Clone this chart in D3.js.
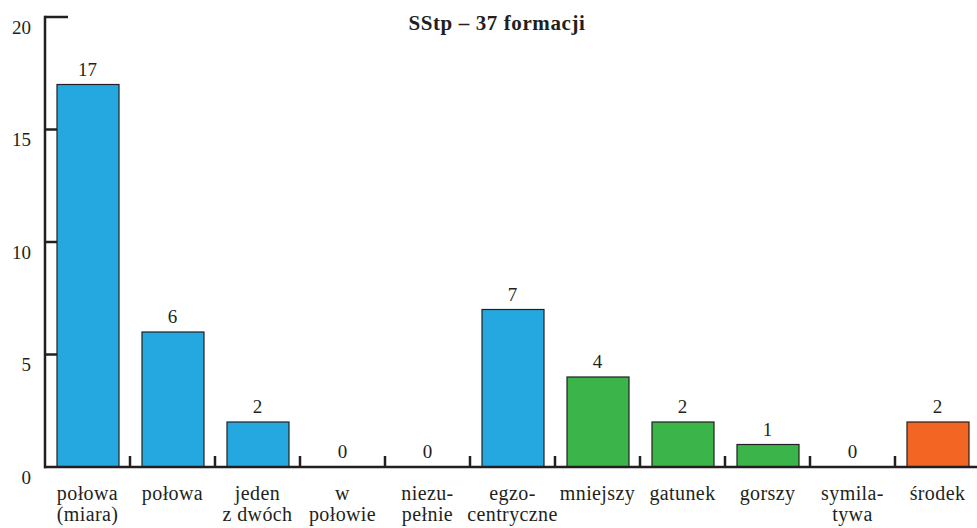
<!DOCTYPE html>
<html><head><meta charset="utf-8">
<script src="https://cdn.jsdelivr.net/npm/d3@7"></script>
<style>
body{margin:0;background:#fff;}
text{font-family:"Liberation Serif","Times New Roman",serif;fill:#231f20;}
</style></head>
<body><svg id="c" width="977" height="528"></svg>
<script>
const categories = [["połowa","(miara)"],["połowa"],["jeden","z dwóch"],["w","połowie"],["niezu-","pełnie"],["egzo-","centryczne"],["mniejszy"],["gatunek"],["gorszy"],["symila-","tywa"],["środek"]];
const values = [17,6,2,0,0,7,4,2,1,0,2];
const groups = ["a","a","a","a","a","a","b","b","b","b","c"];
const yTicks = [0,5,10,15,20];
const title = "SStp – 37 formacji";
const colors = {a:"#25a8e0", b:"#3bb54a", c:"#f26522"};

const svg = d3.select("#c");
const ink = "#231f20";
const n = categories.length;
const x = d3.scaleBand().domain(d3.range(n)).range([45, 45+85*n]);
const y = d3.scaleLinear().domain([0,20]).range([467,17]);
const step = x.step();

// y ticks (inward)
svg.selectAll(".yt").data(yTicks.filter(d=>d>0)).join("line")
  .attr("x1",45).attr("x2",68).attr("y1",d=>y(d)).attr("y2",d=>y(d))
  .attr("stroke",ink).attr("stroke-width",2.5);
svg.selectAll(".yl").data(yTicks).join("text")
  .attr("x",31).attr("y",d=>y(d)+16.5).attr("text-anchor","end")
  .attr("font-size",19).text(d=>d);

// bars
svg.selectAll(".bar").data(values).join("rect")
  .attr("x",(d,i)=>x(i)+12).attr("width",62)
  .attr("y",d=>y(d)).attr("height",d=>y(0)-y(d))
  .attr("fill",(d,i)=>colors[groups[i]]).attr("stroke",ink).attr("stroke-width",1.2)
  .attr("display",d=>d>0?null:"none");

// axes
svg.append("line").attr("x1",45).attr("x2",45).attr("y1",y(20)-1.2).attr("y2",y(0)+1.2).attr("stroke",ink).attr("stroke-width",2.5);
svg.append("line").attr("x1",44).attr("x2",977).attr("y1",y(0)).attr("y2",y(0)).attr("stroke",ink).attr("stroke-width",2.5);
svg.selectAll(".xt").data(d3.range(1,n+1)).join("line")
  .attr("x1",i=>45+i*step).attr("x2",i=>45+i*step).attr("y1",y(0)).attr("y2",y(0)-11)
  .attr("stroke",ink).attr("stroke-width",2.5);

// value labels
svg.selectAll(".vl").data(values).join("text")
  .attr("x",(d,i)=>x(i)+step/2).attr("y",d=>y(d)-9)
  .attr("text-anchor","middle").attr("font-size",19).text(d=>d);

// category labels
const cl = svg.selectAll(".cl").data(categories).join("text")
  .attr("text-anchor","middle").attr("font-size",20).attr("letter-spacing",0.4);
cl.each(function(lines,i){
  const t=d3.select(this);
  lines.forEach((s,k)=>t.append("tspan").attr("x",x(i)+step/2).attr("y",500+k*21).text(s));
});

svg.append("text").attr("x",497).attr("y",30).attr("text-anchor","middle")
  .attr("font-size",21).attr("font-weight","bold").attr("letter-spacing",0.6).text(title);
</script></body></html>
